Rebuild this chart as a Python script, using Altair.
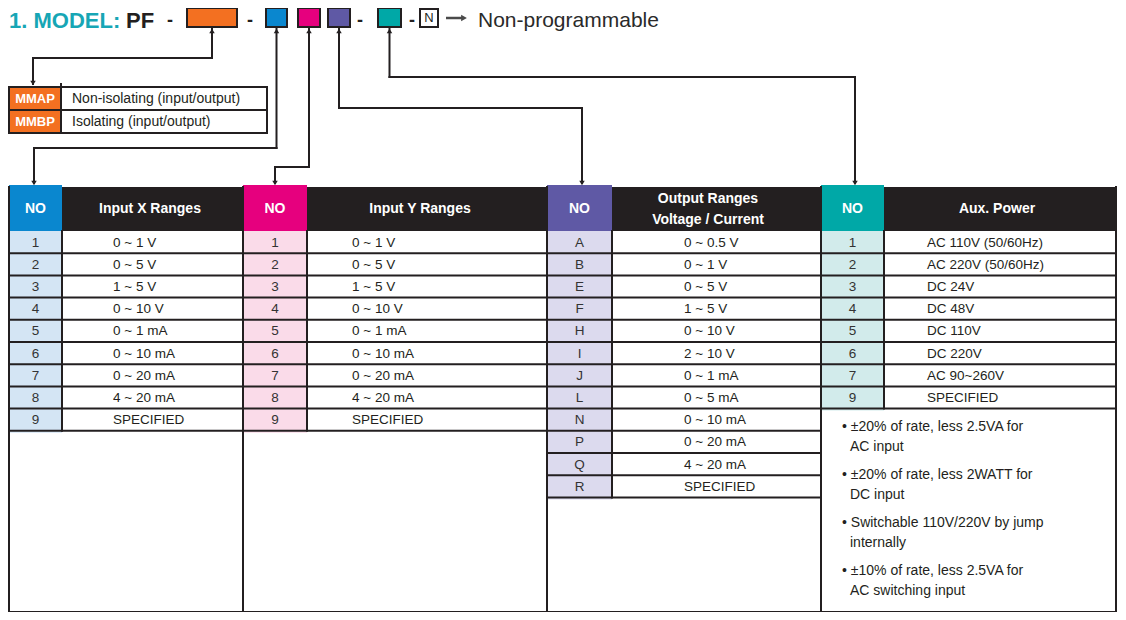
import altair as alt
import pandas as pd

# ---------------- data ----------------
title_prefix = "1. MODEL:"
title_code = "PF"
title_tail = "Non-programmable"
fixed_code = "N"
dash_glyph = "-"

model_codes = ["MMAP", "MMBP"]
model_desc = ["Non-isolating (input/output)", "Isolating (input/output)"]

input_x_codes = ["1", "2", "3", "4", "5", "6", "7", "8", "9"]
input_x_ranges = ["0 ~ 1 V", "0 ~ 5 V", "1 ~ 5 V", "0 ~ 10 V", "0 ~ 1 mA",
                  "0 ~ 10 mA", "0 ~ 20 mA", "4 ~ 20 mA", "SPECIFIED"]

input_y_codes = ["1", "2", "3", "4", "5", "6", "7", "8", "9"]
input_y_ranges = ["0 ~ 1 V", "0 ~ 5 V", "1 ~ 5 V", "0 ~ 10 V", "0 ~ 1 mA",
                  "0 ~ 10 mA", "0 ~ 20 mA", "4 ~ 20 mA", "SPECIFIED"]

output_codes = ["A", "B", "E", "F", "H", "I", "J", "L", "N", "P", "Q", "R"]
output_ranges = ["0 ~ 0.5 V", "0 ~ 1 V", "0 ~ 5 V", "1 ~ 5 V", "0 ~ 10 V", "2 ~ 10 V",
                 "0 ~ 1 mA", "0 ~ 5 mA", "0 ~ 10 mA", "0 ~ 20 mA", "4 ~ 20 mA", "SPECIFIED"]

aux_codes = ["1", "2", "3", "4", "5", "6", "7", "9"]
aux_power = ["AC 110V (50/60Hz)", "AC 220V (50/60Hz)", "DC 24V", "DC 48V",
             "DC 110V", "DC 220V", "AC 90~260V", "SPECIFIED"]

aux_notes_first = ["• ±20% of rate, less 2.5VA for", "• ±20% of rate, less 2WATT for",
                   "• Switchable 110V/220V by jump", "• ±10% of rate, less 2.5VA for"]
aux_notes_second = ["AC input", "DC input", "internally", "AC switching input"]

code_header = "NO"
header_titles = [["Input X Ranges"], ["Input Y Ranges"],
                 ["Output Ranges", "Voltage / Current"], ["Aux. Power"]]

# ---------------- style / layout ----------------
FONT = "Liberation Sans, Arial, Helvetica, sans-serif"
INK = "#231f20"
TITLE_TEAL = "#17a6b5"
ORANGE = "#f37021"
COLORS = [("#0a87cf", "#d4e5f4"), ("#e6007e", "#fadbe9"),
          ("#5f59a5", "#dcdaee"), ("#00a8a7", "#d2ebeb")]

W, H = 1110, 604
OX, OY = 8, 8
xs = alt.Scale(domain=[OX, OX + W], nice=False, zero=False)
ys = alt.Scale(domain=[OY, OY + H], nice=False, zero=False, reverse=True)

ROW_H = 22.2
HEAD_TOP, HEAD_BOT = 187, 231
BOTTOM = 612
LAYOUT = [
    dict(x0=9, xd=62, x1=243, tx=113, hx=150),
    dict(x0=243, xd=307, x1=547, tx=352, hx=420),
    dict(x0=547, xd=612, x1=821, tx=684, hx=708),
    dict(x0=821, xd=884, x1=1116, tx=927, hx=997),
]
TABLES = [(input_x_codes, input_x_ranges), (input_y_codes, input_y_ranges),
          (output_codes, output_ranges), (aux_codes, aux_power)]
BOX_X = [(266, 287), (298, 320), (328, 350), (378, 401)]
CONN_MID = [148, 167, 108, 77]
CONN_DST = [34, 275, 582, 855]

fills, boxes, segs, tri_up, tri_dn = [], [], [], [], []
arrow_segs, arrow_heads = [], []
txt = {}


def add_text(style, x, y, s, color=INK):
    txt.setdefault(style, []).append(dict(x=x, y=y, text=s, color=color))


def seg(x0, y0, x1, y1):
    segs.append(dict(x0=x0, y0=y0, x1=x1, y1=y1))


# ---- title line ----
add_text("title", 9, 28, title_prefix, TITLE_TEAL)
add_text("title", 126, 28, title_code, INK)
for dx in [170, 250, 360, 412]:
    add_text("dash", dx, 26, dash_glyph, INK)
boxes.append(dict(x0=187, x1=237, y0=8, y1=27, fill=ORANGE))
for (bx0, bx1), (dark, _) in zip(BOX_X, COLORS):
    boxes.append(dict(x0=bx0, x1=bx1, y0=8, y1=27, fill=dark))
boxes.append(dict(x0=420, x1=438, y0=9, y1=27, fill="#ffffff"))
add_text("nbox", 429, 18, fixed_code, INK)
arrow_segs.append(dict(x0=446, y0=18, x1=462, y1=18))
arrow_heads.append(dict(x=464, y=18))
add_text("tail", 478, 27, title_tail, "#2a2a2a")

# ---- model (MMAP / MMBP) table ----
m_top, m_rh = 87, 23
for i, (c, d) in enumerate(zip(model_codes, model_desc)):
    y0 = m_top + i * m_rh
    fills.append(dict(x0=9, x1=61, y0=y0, y1=y0 + m_rh, fill=ORANGE))
    add_text("mlabel", 35, y0 + m_rh / 2, c, "#ffffff")
    add_text("mdesc", 72, y0 + m_rh / 2, d, INK)
m_bot = m_top + len(model_codes) * m_rh
seg(9, m_top, 267, m_top)
seg(9, m_bot, 267, m_bot)
seg(9, m_top, 9, m_bot)
seg(267, m_top, 267, m_bot)
seg(61, m_top - 3, 61, m_bot)
for i in range(1, len(model_codes)):
    seg(9, m_top + i * m_rh, 267, m_top + i * m_rh)

# orange connector
ocx = (187 + 237) / 2
seg(ocx, 29, ocx, 58)
seg(ocx, 58, 33, 58)
seg(33, 58, 33, 84)
tri_up.append(dict(x=ocx, y=31))
tri_dn.append(dict(x=33, y=83))

# ---- header band ----
fills.append(dict(x0=9, x1=1116, y0=HEAD_TOP, y1=HEAD_BOT, fill=INK))

# ---- four tables ----
for k, ((codes, values), L, (dark, light), titles) in enumerate(zip(TABLES, LAYOUT, COLORS, header_titles)):
    x0, xd, x1 = L["x0"], L["xd"], L["x1"]
    fills.append(dict(x0=x0, x1=xd, y0=HEAD_TOP - 2, y1=HEAD_BOT, fill=dark))
    add_text("head", (x0 + xd) / 2, (HEAD_TOP + HEAD_BOT) / 2, code_header, "#ffffff")
    if len(titles) == 1:
        add_text("head", L["hx"], (HEAD_TOP + HEAD_BOT) / 2, titles[0], "#ffffff")
    else:
        add_text("head", L["hx"], HEAD_TOP + 12, titles[0], "#ffffff")
        add_text("head", L["hx"], HEAD_TOP + 33, titles[1], "#ffffff")
    last = HEAD_BOT + len(codes) * ROW_H
    for i, (c, v) in enumerate(zip(codes, values)):
        y0 = HEAD_BOT + i * ROW_H
        y1 = y0 + ROW_H
        fills.append(dict(x0=x0 + 1, x1=xd, y0=y0, y1=y1 + (2 if i == len(codes) - 1 else 0), fill=light))
        add_text("code", (x0 + xd) / 2, (y0 + y1) / 2 + 0.5, c, "#333333")
        add_text("value", L["tx"], (y0 + y1) / 2 + 0.5, v, INK)
        seg(x0, y1, x1, y1)
    seg(xd, HEAD_BOT, xd, last)
    seg(x0, HEAD_TOP, x0, BOTTOM + (4 if k == 3 else 0))
    # connector from title code box to header
    bx0, bx1 = BOX_X[k]
    cx = (bx0 + bx1) / 2
    mid, dst = CONN_MID[k], CONN_DST[k]
    seg(cx, 29, cx, mid)
    seg(cx, mid, dst, mid)
    seg(dst, mid, dst, HEAD_TOP - 4)
    tri_up.append(dict(x=cx, y=31))
    tri_dn.append(dict(x=dst, y=HEAD_TOP - 4))

# right border and bottom
seg(1116, HEAD_TOP, 1116, BOTTOM)
seg(9, BOTTOM, 1116, BOTTOM)

# aux notes
for j, (a, b) in enumerate(zip(aux_notes_first, aux_notes_second)):
    yb = 427 + j * 48
    add_text("note", 842, yb, a, INK)
    add_text("note", 850, yb + 20, b, INK)

STYLES = {
    "title": dict(fontSize=22, fontWeight="bold", align="left", baseline="alphabetic"),
    "dash": dict(fontSize=18, fontWeight="bold", align="center", baseline="alphabetic"),
    "tail": dict(fontSize=21, align="left", baseline="alphabetic"),
    "nbox": dict(fontSize=13, align="center", baseline="middle"),
    "mlabel": dict(fontSize=13, fontWeight="bold", align="center", baseline="middle"),
    "mdesc": dict(fontSize=14, align="left", baseline="middle"),
    "head": dict(fontSize=14, fontWeight="bold", align="center", baseline="middle"),
    "code": dict(fontSize=13.5, align="center", baseline="middle"),
    "value": dict(fontSize=13.5, align="left", baseline="middle"),
    "note": dict(fontSize=14, align="left", baseline="middle"),
}


def rect_layer(rows, **mark):
    return alt.Chart(pd.DataFrame(rows)).mark_rect(**mark).encode(
        x=alt.X("x0:Q", scale=xs, axis=None), x2="x1:Q",
        y=alt.Y("y0:Q", scale=ys, axis=None), y2="y1:Q",
        fill=alt.Fill("fill:N", scale=None))


def seg_layer(rows, color=INK, width=2, cap="square"):
    return alt.Chart(pd.DataFrame(rows)).mark_rule(color=color, strokeWidth=width, strokeCap=cap).encode(
        x=alt.X("x0:Q", scale=xs, axis=None), x2="x1:Q",
        y=alt.Y("y0:Q", scale=ys, axis=None), y2="y1:Q")


def tri_layer(rows, shape, size=30, color=INK):
    return alt.Chart(pd.DataFrame(rows)).mark_point(shape=shape, filled=True, size=size,
                                                    color=color, opacity=1).encode(
        x=alt.X("x:Q", scale=xs, axis=None), y=alt.Y("y:Q", scale=ys, axis=None))


def text_layer(rows, style):
    return alt.Chart(pd.DataFrame(rows)).mark_text(font=FONT, **STYLES[style]).encode(
        x=alt.X("x:Q", scale=xs, axis=None), y=alt.Y("y:Q", scale=ys, axis=None),
        text="text:N", color=alt.Color("color:N", scale=None))


layers = [rect_layer(fills),
          seg_layer(segs),
          rect_layer(boxes, stroke=INK, strokeWidth=2),
          tri_layer(tri_up, "triangle-up"),
          tri_layer(tri_dn, "triangle-down"),
          seg_layer(arrow_segs, color="#4a4a4a", width=2.5, cap="butt"),
          tri_layer(arrow_heads, "triangle-right", size=45, color="#4a4a4a")]
for st, rows in txt.items():
    layers.append(text_layer(rows, st))

chart = alt.layer(*layers).properties(
    width=W, height=H, padding=0,
    autosize=alt.AutoSizeParams(type="none"),
    background="#ffffff",
).configure_view(strokeWidth=0)

chart.save("out.html", embed_options={"renderer": "svg", "actions": False})
